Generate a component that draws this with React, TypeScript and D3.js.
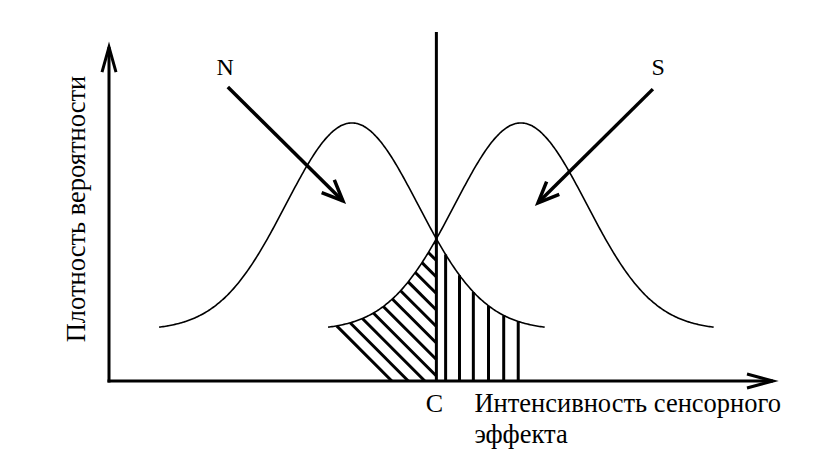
import React from "react";
import * as d3 from "d3";

// ---- data (data units: x = sensory intensity in σ units, y = probability density) ----
const noiseMean = 0;
const signalMean = 2.56;
const sigma = 1;
const criterion = 1.28;
const curveHalfExtent = 2.92; // in σ
const hitHatchX = [1.42, 1.63, 1.84, 2.07, 2.3, 2.52];
const falseAlarmHatchStart = 2.79; // σ below signal mean, where first diagonal meets S curve

const xDomain: [number, number] = [-3.68, 6.38];
const yDomain: [number, number] = [-0.098, 0.574];
const yAxisTop = 0.545;

const distributionLabels = ["N", "S"];
const labelPos = [
  { x: -1.92, y: 0.491 },
  { x: 4.64, y: 0.491 },
];
const pointerFrom = [
  { x: -1.88, y: 0.468 },
  { x: 4.56, y: 0.464 },
];
const pointerTo = [
  { x: -0.136, y: 0.2486 },
  { x: 2.82, y: 0.245 },
];
const criterionLabel = "C";
const yAxisLabel = "Плотность вероятности";
const xAxisLabelLines = ["Интенсивность сенсорного", "эффекта"];

// ---- layout ----
const W = 819;
const H = 460;
const FONT = "'Liberation Serif', 'Times New Roman', serif";

const pdf = (x: number, mu: number, s: number) =>
  Math.exp(-((x - mu) ** 2) / (2 * s * s)) / (s * Math.sqrt(2 * Math.PI));

function arrowHead(tx: number, ty: number, fx: number, fy: number, L: number, w: number) {
  const dx = tx - fx;
  const dy = ty - fy;
  const len = Math.hypot(dx, dy);
  const ux = dx / len;
  const uy = dy / len;
  const bx = tx - L * ux;
  const by = ty - L * uy;
  return `${bx - w * uy},${by + w * ux} ${tx},${ty} ${bx + w * uy},${by - w * ux}`;
}

export default function App() {
  const x = d3.scaleLinear().domain(xDomain).range([109, 773]);
  const y = d3.scaleLinear().domain(yDomain).range([381, 32]);

  const curve = (mu: number) => {
    const xs = d3.range(mu - curveHalfExtent * sigma, mu + curveHalfExtent * sigma + 1e-9, 0.02);
    return d3
      .line<number>()
      .x((v) => x(v))
      .y((v) => y(pdf(v, mu, sigma)))
      .curve(d3.curveBasis)(xs) as string;
  };

  const x0 = x.range()[0];
  const xEnd = x.range()[1];
  const y0 = y(yDomain[0]);
  const yTop = y(yAxisTop);
  const cx = x(criterion);

  // diagonal hatching (false alarms) under S curve, left of criterion
  const sPix = (px: number) => y(pdf(x.invert(px), signalMean, sigma));
  const hatchStep = 16.5;
  const firstPx = x(signalMean - falseAlarmHatchStart * sigma);
  const c0 = firstPx - sPix(firstPx);
  const diag: { x1: number; y1: number; x2: number; y2: number }[] = [];
  for (let c = c0; c < cx - sPix(cx); c += hatchStep) {
    let lo = x(signalMean - curveHalfExtent * sigma);
    let hi = cx;
    for (let i = 0; i < 50; i++) {
      const m = (lo + hi) / 2;
      if (m - sPix(m) < c) lo = m;
      else hi = m;
    }
    const tx = (lo + hi) / 2;
    const ty = sPix(tx);
    let bx = c + y0;
    let by = y0;
    if (bx > cx) {
      bx = cx;
      by = cx - c;
    }
    diag.push({ x1: tx, y1: ty, x2: bx, y2: by });
  }

  return (
    <svg
      width={W}
      height={H}
      style={{ position: "absolute", left: 0, top: 0, background: "#fff" }}
    >
      <rect width={W} height={H} fill="#fff" />
      {/* curves */}
      <path d={curve(noiseMean)} fill="none" stroke="#000" strokeWidth={1.6} />
      <path d={curve(signalMean)} fill="none" stroke="#000" strokeWidth={1.6} />

      {/* hatching */}
      {diag.map((d, i) => (
        <line key={"d" + i} {...d} stroke="#000" strokeWidth={3} />
      ))}
      {hitHatchX.map((v, i) => (
        <line
          key={"v" + i}
          x1={x(v)}
          x2={x(v)}
          y1={y(pdf(v, noiseMean, sigma))}
          y2={y0}
          stroke="#000"
          strokeWidth={3}
        />
      ))}

      {/* criterion line */}
      <line x1={cx} x2={cx} y1={y(yDomain[1])} y2={y0} stroke="#000" strokeWidth={3} />

      {/* axes */}
      <line x1={x0} x2={x0} y1={y0 + 1.5} y2={yTop} stroke="#000" strokeWidth={3} />
      <line x1={x0 - 1.5} x2={xEnd} y1={y0} y2={y0} stroke="#000" strokeWidth={3} />
      <polyline
        points={arrowHead(x0, yTop, x0, y0, 25, 7)}
        fill="none"
        stroke="#000"
        strokeWidth={3}
      />
      <polyline
        points={arrowHead(xEnd, y0, x0, y0, 26, 7)}
        fill="none"
        stroke="#000"
        strokeWidth={3}
      />

      {/* pointers */}
      {pointerFrom.map((p, i) => {
        const f = { x: x(p.x), y: y(p.y) };
        const t = { x: x(pointerTo[i].x), y: y(pointerTo[i].y) };
        return (
          <g key={"p" + i}>
            <line x1={f.x} y1={f.y} x2={t.x} y2={t.y} stroke="#000" strokeWidth={3.5} />
            <polyline
              points={arrowHead(t.x, t.y, f.x, f.y, 21, 9)}
              fill="none"
              stroke="#000"
              strokeWidth={3.5}
            />
          </g>
        );
      })}

      {/* labels */}
      {distributionLabels.map((l, i) => (
        <text
          key={l}
          x={x(labelPos[i].x)}
          y={y(labelPos[i].y)}
          textAnchor="middle"
          fontFamily={FONT}
          fontSize={24}
        >
          {l}
        </text>
      ))}
      <text x={cx - 2} y={y0 + 31} textAnchor="middle" fontFamily={FONT} fontSize={26}>
        {criterionLabel}
      </text>
      {xAxisLabelLines.map((l, i) => (
        <text key={l} x={cx + 38} y={y0 + 31 + i * 31} fontFamily={FONT} fontSize={26.5}>
          {l}
        </text>
      ))}
      <text
        transform={`translate(${x0 - 24},${(y0 + yTop) / 2 - 5}) rotate(-90)`}
        textAnchor="middle"
        fontFamily={FONT}
        fontSize={26.5}
      >
        {yAxisLabel}
      </text>
    </svg>
  );
}
